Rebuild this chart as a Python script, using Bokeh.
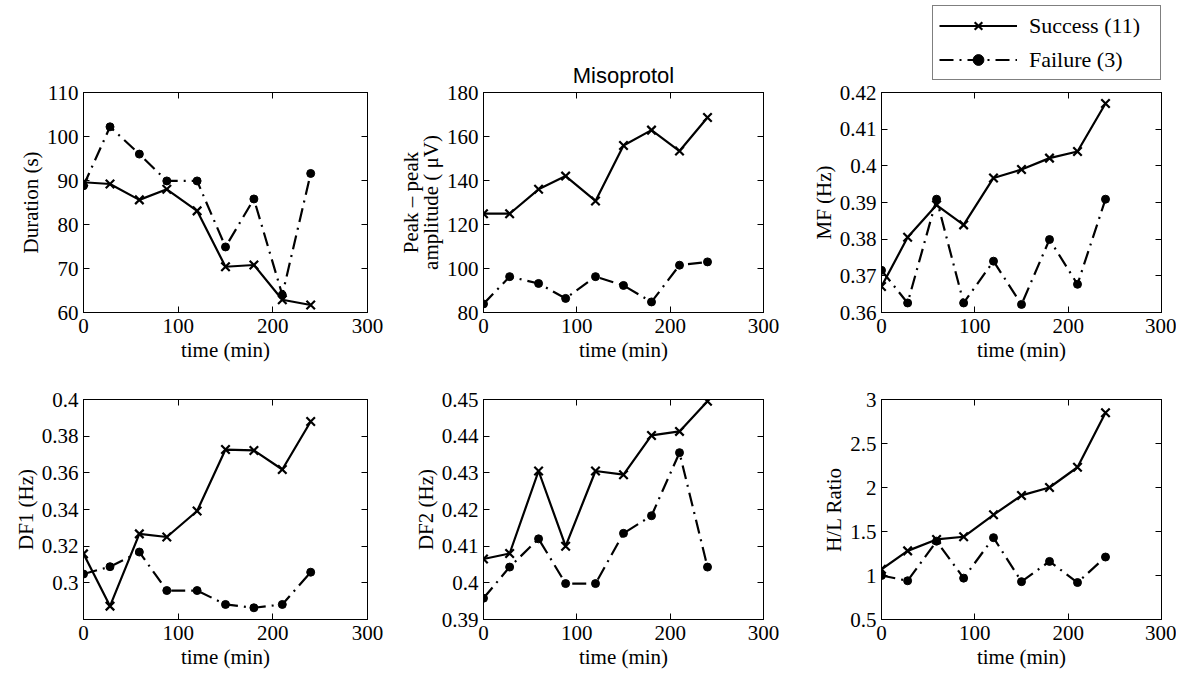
from bokeh.plotting import figure
from bokeh.layouts import column, row
from bokeh.models import FixedTicker, LinearAxis, Legend, LegendItem, Range1d
from bokeh.embed import file_html
from bokeh.resources import INLINE

# ---------------- data ----------------
time_min = [0, 28, 59, 88, 120, 150, 180, 210, 240]

duration_success = [89.6, 89.2, 85.6, 88.0, 83.1, 70.4, 70.8, 62.9, 61.7]
duration_failure = [88.8, 102.2, 96.0, 89.9, 89.9, 74.9, 85.8, 64.0, 91.6]

amplitude_success = [124.9, 124.9, 136.0, 142.0, 130.7, 155.9, 162.9, 153.4, 168.6]
amplitude_failure = [83.9, 96.3, 93.2, 86.4, 96.3, 92.3, 84.8, 101.5, 103.0]

mf_success = [0.3671, 0.3805, 0.3893, 0.3839, 0.3967, 0.3990, 0.4021, 0.4039, 0.4170]
mf_failure = [0.3715, 0.3626, 0.3909, 0.3626, 0.3740, 0.3622, 0.3799, 0.3677, 0.3909]

df1_success = [0.3158, 0.2873, 0.3267, 0.3250, 0.3392, 0.3727, 0.3722, 0.3618, 0.3880]
df1_failure = [0.3048, 0.3088, 0.3168, 0.2958, 0.2958, 0.2882, 0.2864, 0.2882, 0.3058]

df2_success = [0.4065, 0.4080, 0.4305, 0.4100, 0.4305, 0.4295, 0.4402, 0.4413, 0.4495]
df2_failure = [0.3958, 0.4043, 0.4120, 0.3998, 0.3998, 0.4135, 0.4183, 0.4355, 0.4043]

hl_success = [1.07, 1.28, 1.41, 1.44, 1.69, 1.91, 2.00, 2.23, 2.85]
hl_failure = [1.00, 0.94, 1.39, 0.97, 1.43, 0.93, 1.16, 0.92, 1.21]

x_ticks = [0, 100, 200, 300]
x_tick_labels = ["0", "100", "200", "300"]

duration_ticks = [60, 70, 80, 90, 100, 110]
duration_labels = ["60", "70", "80", "90", "100", "110"]
amplitude_ticks = [80, 100, 120, 140, 160, 180]
amplitude_labels = ["80", "100", "120", "140", "160", "180"]
mf_ticks = [0.36, 0.37, 0.38, 0.39, 0.4, 0.41, 0.42]
mf_labels = ["0.36", "0.37", "0.38", "0.39", "0.4", "0.41", "0.42"]
df1_ticks = [0.3, 0.32, 0.34, 0.36, 0.38, 0.4]
df1_labels = ["0.3", "0.32", "0.34", "0.36", "0.38", "0.4"]
df2_ticks = [0.39, 0.4, 0.41, 0.42, 0.43, 0.44, 0.45]
df2_labels = ["0.39", "0.4", "0.41", "0.42", "0.43", "0.44", "0.45"]
hl_ticks = [0.5, 1, 1.5, 2, 2.5, 3]
hl_labels = ["0.5", "1", "1.5", "2", "2.5", "3"]

success_label = "Success (11)"
failure_label = "Failure (3)"
title_text = "Misoprotol"

# ---------------- styling ----------------
SERIF = "Liberation Serif"
FS = "21px"
DASH = "14 6 2 6"
LW = 2.2


def style_axis(ax, ticks, labels, show):
    ax.ticker = FixedTicker(ticks=ticks)
    ax.major_tick_in = 6
    ax.major_tick_out = 0
    ax.minor_tick_in = 0
    ax.minor_tick_out = 0
    ax.axis_line_color = "black"
    ax.major_tick_line_color = "black"
    ax.major_label_text_font = SERIF
    ax.major_label_text_color = "black"
    ax.axis_label_text_font = SERIF
    ax.axis_label_text_font_size = FS
    ax.axis_label_text_font_style = "normal"
    ax.axis_label_text_color = "black"
    if show:
        ax.major_label_overrides = dict(zip(ticks, labels))
        ax.major_label_text_font_size = FS
        ax.major_label_standoff = 6
    else:
        ax.major_label_overrides = {t: "" for t in ticks}
        ax.major_label_text_font_size = "1px"
        ax.major_label_standoff = 0


def add_series(p, ys, yf):
    ls = p.line(time_min, ys, line_color="black", line_width=LW)
    ss = p.scatter(time_min, ys, marker="x", size=12, line_color="black", line_width=LW)
    lf = p.line(time_min, yf, line_color="black", line_width=LW, line_dash=DASH)
    sf = p.scatter(time_min, yf, marker="circle", size=8, fill_color="black", line_color="black")
    return ls, ss, lf, sf


def panel(ys, yf, yr, yticks, ylabels, ylabel, bl, br, bt, bb, fw, title=None):
    kw = {}
    if title is None:
        kw["title_location"] = None
    else:
        kw["title"] = title
    p = figure(frame_width=fw, frame_height=220,
               x_range=Range1d(0, 300), y_range=Range1d(yr[0], yr[1]),
               min_border_left=bl, min_border_right=br,
               min_border_top=bt, min_border_bottom=bb,
               output_backend="svg", toolbar_location=None, tools="", **kw)
    p.grid.visible = False
    p.outline_line_color = "black"
    p.outline_line_width = 1
    p.background_fill_color = "white"
    p.border_fill_color = "white"
    style_axis(p.xaxis[0], x_ticks, x_tick_labels, True)
    style_axis(p.yaxis[0], yticks, ylabels, True)
    p.yaxis[0].major_label_standoff = 5
    p.xaxis[0].axis_label = "time (min)"
    p.xaxis[0].axis_label_standoff = 2
    p.yaxis[0].axis_label = ylabel
    p.yaxis[0].axis_label_standoff = 1
    p.yaxis[0].axis_label_text_line_height = 0.85
    top = LinearAxis()
    style_axis(top, x_ticks, x_tick_labels, False)
    p.add_layout(top, "above")
    right = LinearAxis()
    style_axis(right, yticks, ylabels, False)
    p.add_layout(right, "right")
    if title is not None:
        p.title.text_font = "Liberation Sans"
        p.title.text_font_size = "22px"
        p.title.text_font_style = "normal"
        p.title.align = "center"
        p.title.text_color = "black"
    add_series(p, ys, yf)
    return p


# column borders: (left, right, frame width)
C1 = (83, 18, 284)
C2 = (98, 27, 280)
C3 = (91, 15, 280)
TOP = (92, 74)
BOT = (13, 55)
LEG_H = 80

p1 = panel(duration_success, duration_failure, (60, 110), duration_ticks, duration_labels,
           "Duration (s)", C1[0], C1[1], TOP[0], TOP[1], C1[2])
p2 = panel(amplitude_success, amplitude_failure, (80, 180), amplitude_ticks, amplitude_labels,
           "Peak \u2013 peak\namplitude ( \u03bcV)", C2[0], C2[1], TOP[0], TOP[1], C2[2],
           title=title_text)
p3 = panel(mf_success, mf_failure, (0.36, 0.42), mf_ticks, mf_labels,
           "MF (Hz)", C3[0], C3[1], TOP[0] - LEG_H, TOP[1], C3[2])
p4 = panel(df1_success, df1_failure, (0.28, 0.4), df1_ticks, df1_labels,
           "DF1 (Hz)", C1[0], C1[1], BOT[0], BOT[1], C1[2])
p5 = panel(df2_success, df2_failure, (0.39, 0.45), df2_ticks, df2_labels,
           "DF2 (Hz)", C2[0], C2[1], BOT[0], BOT[1], C2[2])
p6 = panel(hl_success, hl_failure, (0.5, 3), hl_ticks, hl_labels,
           "H/L Ratio", C3[0], C3[1], BOT[0], BOT[1], C3[2])

# legend strip above the MF panel: same series, kept outside this strip's view
pl = figure(width=C3[0] + C3[2] + C3[1], height=LEG_H, x_axis_type=None, y_axis_type=None,
            x_range=Range1d(0, 300), y_range=Range1d(1, 2),
            min_border=0, output_backend="svg", toolbar_location=None, tools="",
            title_location=None)
pl.grid.visible = False
pl.outline_line_color = None
pl.background_fill_color = "white"
pl.border_fill_color = "white"
k = add_series(pl, mf_success, mf_failure)

legend = Legend(items=[LegendItem(label=success_label, renderers=[k[0], k[1]]),
                       LegendItem(label=failure_label, renderers=[k[2], k[3]])],
                location=(51, 0))
legend.label_text_font = SERIF
legend.label_text_font_size = "22px"
legend.label_text_color = "black"
legend.glyph_width = 78
legend.glyph_height = 27
legend.spacing = 7
legend.padding = 6
legend.margin = 0
legend.label_standoff = 12
legend.label_width = 125
legend.border_line_color = "black"
legend.border_line_width = 1
legend.background_fill_color = "white"
legend.background_fill_alpha = 1
pl.add_layout(legend)

layout = column(row(p1, p2, column(pl, p3, spacing=0), spacing=0),
                row(p4, p5, p6, spacing=0), spacing=0)

open("out.html", "w").write(file_html(layout, INLINE))
